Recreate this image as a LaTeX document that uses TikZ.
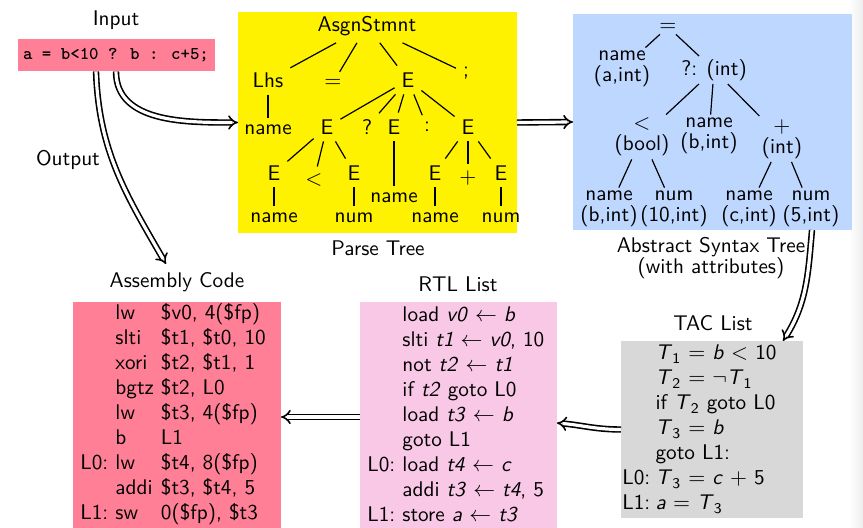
\documentclass[tikz,border=0pt]{standalone}
\usetikzlibrary{arrows.meta}
\definecolor{srcpink}{RGB}{255,128,150}
\definecolor{treeyellow}{RGB}{255,242,0}
\definecolor{astblue}{RGB}{190,215,255}
\definecolor{tacgray}{RGB}{216,216,216}
\definecolor{rtlpink}{RGB}{248,200,230}
\newcommand{\vr}[1]{\textit{#1}}
\newcommand{\tmp}[1]{\textit{T}\textsubscript{#1}}
\begin{document}
\begin{tikzpicture}[x=0.5pt,y=0.5pt,font=\sffamily\fontsize{10.6}{12.5}\selectfont]
\tikzstyle{panel}=[anchor=north west,inner sep=0pt,outer sep=0pt]
\tikzstyle{listing}=[anchor=north west,inner sep=0pt]
\tikzstyle{attr}=[align=center,inner sep=1.5pt,font=\sffamily\fontsize{10.6}{10.5}\selectfont]
\tikzstyle{pass}=[double,double distance=1.6pt,line width=0.8pt,-{Implies}]
\tikzstyle{edge}=[line width=0.6pt]

\useasboundingbox (0,0) rectangle (863,-528);
\shade[left color=white,right color=black!7] (849,0) rectangle (863,-528);

\node at (116,-20) (inlbl) {Input};
\node[fill=srcpink,minimum width=98.5pt,minimum height=16pt,inner sep=0pt,font=\fontsize{9}{10}\selectfont\ttfamily\bfseries] at (116,-55) (input) {a = b<10 ? b : c+5;};
\node at (68,-160) (outlbl) {Output};

\node[panel,fill=treeyellow,minimum width=139.5pt,minimum height=110.5pt] at (238,-12) (ptree) {};
\node[panel,fill=astblue,minimum width=139.5pt,minimum height=108pt] at (573,-14) (ast) {};
\node[panel,fill=tacgray,minimum width=91pt,minimum height=88.5pt] at (621,-341) (tac) {};
\node[panel,fill=rtlpink,minimum width=98.5pt,minimum height=115pt] at (360,-302) (rtl) {};
\node[panel,fill=srcpink,minimum width=104pt,minimum height=115pt] at (73,-302) (asm) {};

\node at (378,-248) (ptlbl) {Parse Tree};
\node[attr] at (711,-258) (astlbl) {Abstract Syntax Tree\\(with attributes)};
\node at (713,-323) (taclbl) {TAC List};
\node at (458,-284) (rtllbl) {RTL List};
\node at (177,-282) (asmlbl) {Assembly Code};
\coordinate (outend) at (166,-264);

\node at (367,-26) (s) {AsgnStmnt};
\node at (268,-80) (lhs) {Lhs};
\node at (333,-83) (eq) {$=$};
\node at (408,-80) (e) {E};
\node at (466,-73) (semi) {;};
\node at (268,-130) (lname) {name};
\node at (327,-127) (e1) {E};
\node at (367,-127) (q) {?};
\node at (394,-127) (e2) {E};
\node at (427,-127) (colon) {:};
\node at (468,-127) (e3) {E};
\node at (274,-173) (e11) {E};
\node at (314,-180) (lt) {$<$};
\node at (354,-173) (e12) {E};
\node at (435,-173) (e31) {E};
\node at (468,-178) (plus) {$+$};
\node at (501,-173) (e32) {E};
\node at (274,-218) (n11) {name};
\node at (354,-218) (n12) {num};
\node at (394,-198) (n2) {name};
\node at (435,-218) (n31) {name};
\node at (501,-218) (n32) {num};

\draw[edge] (s) -- (lhs);
\draw[edge] (s) -- (eq);
\draw[edge] (s) -- (e);
\draw[edge] (s) -- (semi);
\draw[edge] (lhs) -- (lname);
\draw[edge] (e) -- (e1);
\draw[edge] (e) -- (q);
\draw[edge] (e) -- (e2);
\draw[edge] (e) -- (colon);
\draw[edge] (e) -- (e3);
\draw[edge] (e1) -- (e11);
\draw[edge] (e1) -- (lt);
\draw[edge] (e1) -- (e12);
\draw[edge] (e2) -- (n2);
\draw[edge] (e3) -- (e31);
\draw[edge] (e3) -- (plus);
\draw[edge] (e3) -- (e32);
\draw[edge] (e11) -- (n11);
\draw[edge] (e12) -- (n12);
\draw[edge] (e31) -- (n31);
\draw[edge] (e32) -- (n32);

\node[attr] at (668,-27) (asgn) {$=$};
\node[attr] at (622,-69) (na) {name\\(a,int)};
\node[attr] at (714,-70) (cond) {?: (int)};
\node[attr] at (642,-137) (lt2) {$<$\\(bool)};
\node[attr] at (709,-136) (nb) {name\\(b,int)};
\node[attr] at (782,-139) (pl2) {$+$\\(int)};
\node[attr] at (609,-209) (nb2) {name\\(b,int)};
\node[attr] at (674,-209) (n10) {num\\(10,int)};
\node[attr] at (749,-209) (nc) {name\\(c,int)};
\node[attr] at (811,-209) (n5) {num\\(5,int)};

\draw[edge] (asgn) -- (na);
\draw[edge] (asgn) -- (cond);
\draw[edge] (cond) -- (lt2);
\draw[edge] (cond) -- (nb);
\draw[edge] (cond) -- (pl2);
\draw[edge] (lt2) -- (nb2);
\draw[edge] (lt2) -- (n10);
\draw[edge] (pl2) -- (nc);
\draw[edge] (pl2) -- (n5);

\node[listing] at (622,-342) (taccode) {\begin{tabular}{@{}r@{\hspace{2.6pt}}l@{}}
 & \tmp{1} $=$ \vr{b} $<$ 10\\
 & \tmp{2} $=$ $\neg$\tmp{1}\\
 & if \tmp{2} goto L0\\
 & \tmp{3} $=$ \vr{b}\\
 & goto L1:\\
L0: & \tmp{3} $=$ \vr{c} $+$ 5\\
L1: & \vr{a} $=$ \tmp{3}
\end{tabular}};

\node[listing] at (367,-304) (rtlcode) {\begin{tabular}{@{}r@{\ }l@{}}
 & load \vr{v0} $\leftarrow$ \vr{b}\\
 & slti \vr{t1} $\leftarrow$ \vr{v0}, 10\\
 & not \vr{t2} $\leftarrow$ \vr{t1}\\
 & if \vr{t2} goto L0\\
 & load \vr{t3} $\leftarrow$ \vr{b}\\
 & goto L1\\
L0: & load \vr{t4} $\leftarrow$ \vr{c}\\
 & addi \vr{t3} $\leftarrow$ \vr{t4}, 5\\
L1: & store \vr{a} $\leftarrow$ \vr{t3}
\end{tabular}};

\node[listing] at (80,-302) (asmcode) {\begin{tabular}{@{}r@{\ }l@{\ }l@{}}
 & lw & \$v0, 4(\$fp)\\
 & slti & \$t1, \$t0, 10\\
 & xori & \$t2, \$t1, 1\\
 & bgtz & \$t2, L0\\
 & lw & \$t3, 4(\$fp)\\
 & b & L1\\
L0: & lw & \$t4, 8(\$fp)\\
 & addi & \$t3, \$t4, 5\\
L1: & sw & 0(\$fp), \$t3
\end{tabular}};

\draw[pass] (input.south) to[out=-90,in=180] (ptree.west);
\draw[pass] ([xshift=-10pt]input.south) to[out=-88,in=120] (outend);
\draw[pass] (ptree.east) -- (ast.west);
\draw[pass] ([xshift=-20pt]ast.south east) to[out=-95,in=58] ([xshift=-10pt]tac.north east);
\draw[pass] (tac.west) to[out=180,in=-5] ([yshift=-3pt]rtl.east);
\draw[pass] (rtl.west) -- (asm.east);
\end{tikzpicture}
\end{document}
